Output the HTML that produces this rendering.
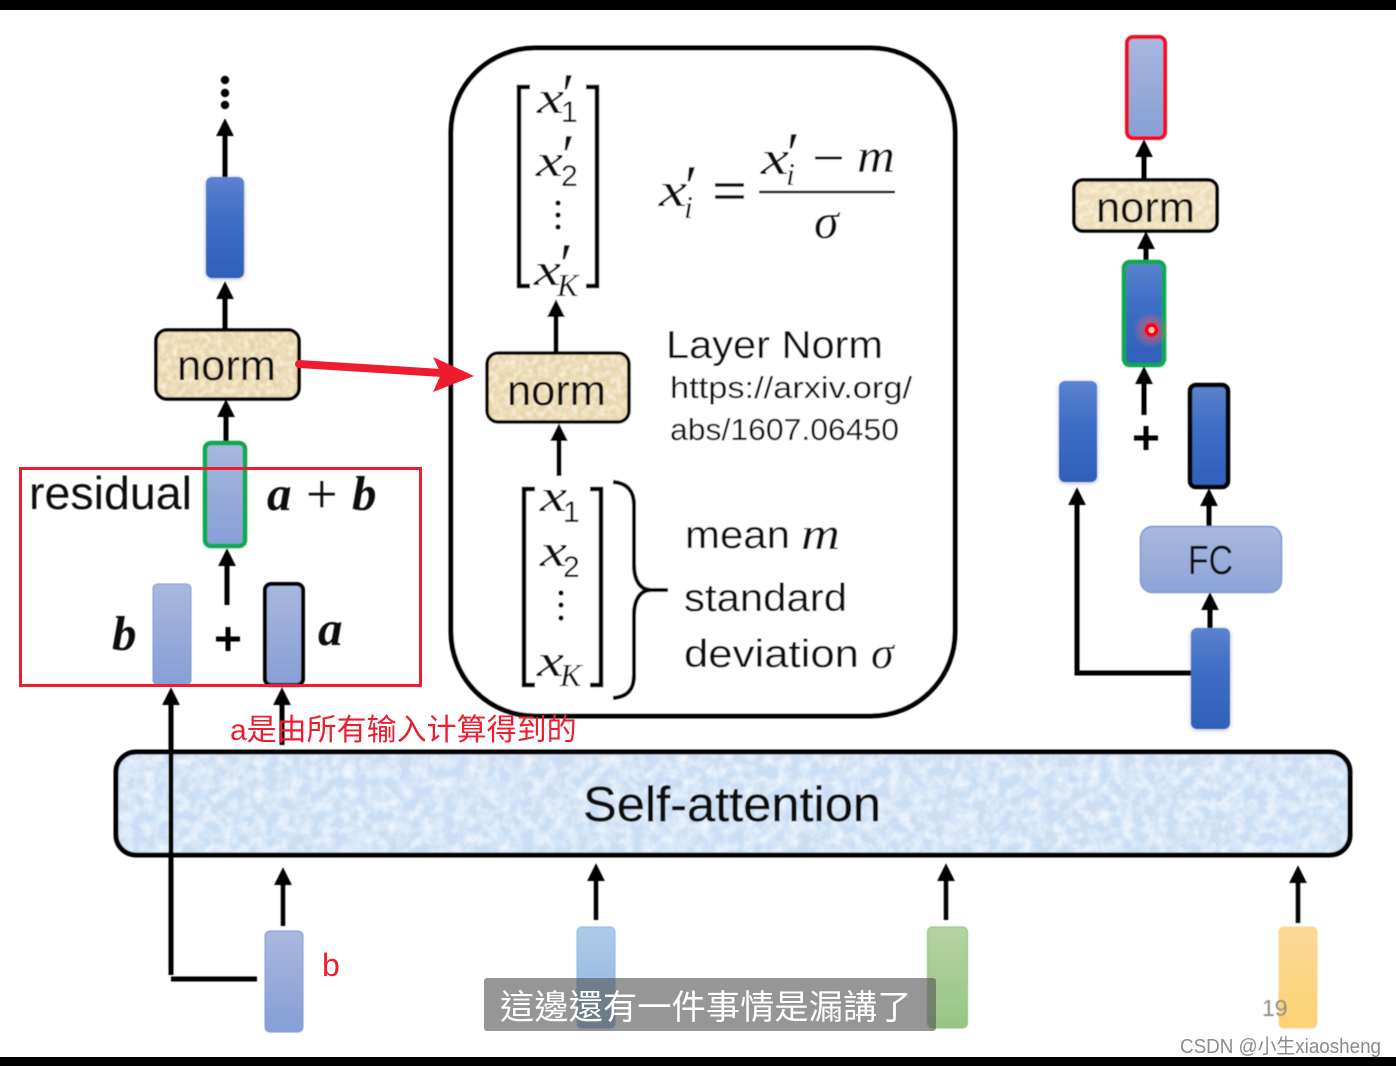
<!DOCTYPE html>
<html><head><meta charset="utf-8"><style>
html,body{margin:0;padding:0;background:#fff;width:1396px;height:1066px;overflow:hidden}
svg{display:block}
text{font-family:"Liberation Sans","Noto Sans CJK SC",sans-serif;fill:#111}
.m{font-family:"Liberation Serif",serif;font-style:italic}
.p{font-family:"Liberation Serif",serif;font-style:italic;font-size:60px}
.bi{font-family:"Liberation Serif",serif;font-style:italic;font-weight:bold;fill:#111}
.l{stroke:#000;stroke-width:5;fill:none}
.lt{stroke:#000;stroke-width:4.5;fill:none}
.a{marker-end:url(#ah)}
</style></head><body>
<svg width="1396" height="1066" viewBox="0 0 1396 1066" xmlns="http://www.w3.org/2000/svg">
<defs>
<marker id="ah" markerUnits="userSpaceOnUse" markerWidth="20" markerHeight="20" refX="0" refY="9" orient="auto" viewBox="0 0 18 18"><path d="M0,1 L16,9 L0,17 Z" fill="#000"/></marker>
<linearGradient id="blue" x1="0" y1="0" x2="0" y2="1"><stop offset="0" stop-color="#5c83cf"/><stop offset=".4" stop-color="#3f6ec5"/><stop offset="1" stop-color="#2f60b9"/></linearGradient>
<linearGradient id="lb" x1="0" y1="0" x2="0" y2="1"><stop offset="0" stop-color="#a8b8de"/><stop offset="1" stop-color="#869fd6"/></linearGradient>
<linearGradient id="sky" x1="0" y1="0" x2="0" y2="1"><stop offset="0" stop-color="#aecbe8"/><stop offset="1" stop-color="#8fb4df"/></linearGradient>
<linearGradient id="gr" x1="0" y1="0" x2="0" y2="1"><stop offset="0" stop-color="#b5d4a3"/><stop offset="1" stop-color="#97c585"/></linearGradient>
<linearGradient id="ye" x1="0" y1="0" x2="0" y2="1"><stop offset="0" stop-color="#fcd998"/><stop offset="1" stop-color="#fdd272"/></linearGradient>
<linearGradient id="fc" x1="0" y1="0" x2="0" y2="1"><stop offset="0" stop-color="#a8b8de"/><stop offset="1" stop-color="#8ea5d9"/></linearGradient>
<radialGradient id="glow"><stop offset="0" stop-color="#ff3030" stop-opacity=".85"/><stop offset="1" stop-color="#ff8080" stop-opacity="0"/></radialGradient>
<filter id="s" x="-20%" y="-20%" width="140%" height="140%"><feGaussianBlur stdDeviation="0.6"/></filter>
<filter id="sh" x="-30%" y="-20%" width="160%" height="140%"><feDropShadow dx="0" dy="1" stdDeviation="2" flood-color="#000" flood-opacity=".3"/></filter>
<filter id="tex" x="0" y="0" width="100%" height="100%"><feTurbulence type="fractalNoise" baseFrequency="0.09" numOctaves="3" seed="4"/><feColorMatrix type="matrix" values="0 0 0 0 0.93  0 0 0 0 0.96  0 0 0 0 1  1.6 0 0 0 -0.55"/><feComposite in2="SourceGraphic" operator="in"/><feMerge><feMergeNode in="SourceGraphic"/><feMergeNode/></feMerge></filter>
<filter id="tex2" x="0" y="0" width="100%" height="100%"><feTurbulence type="fractalNoise" baseFrequency="0.18" numOctaves="2" seed="9"/><feColorMatrix type="matrix" values="0 0 0 0 0.97  0 0 0 0 0.92  0 0 0 0 0.76  1.6 0 0 0 -0.55"/><feComposite in2="SourceGraphic" operator="in"/><feMerge><feMergeNode in="SourceGraphic"/><feMergeNode/></feMerge></filter>
</defs>

<rect width="1396" height="1066" fill="#fff"/>
<rect width="1396" height="10" fill="#000"/>
<rect y="1057" width="1396" height="9" fill="#000"/>

<g filter="url(#s)">
<!-- left column -->
<circle cx="225" cy="80" r="4.2"/><circle cx="225" cy="93" r="4.2"/><circle cx="225" cy="105" r="4.2"/>
<line class="l a" x1="225" y1="177" x2="225" y2="136"/>
<rect x="206" y="177" width="38" height="101" rx="6" fill="url(#blue)" filter="url(#sh)"/>
<line class="l a" x1="225" y1="329" x2="225" y2="299"/>
<rect x="156" y="330" width="143" height="69" rx="11" fill="#e7d6ab" stroke="#000" stroke-width="3.5"/>
<rect x="158" y="332" width="139" height="65" rx="9" fill="#e7d6ab" filter="url(#tex2)"/>
<text x="177" y="380" font-size="43" textLength="99" lengthAdjust="spacingAndGlyphs">norm</text>
<line class="l a" x1="226" y1="442" x2="226" y2="417"/>
<rect x="205" y="443" width="40" height="103" rx="6" fill="url(#lb)" stroke="#0aa850" stroke-width="4.5"/>
<text x="29" y="509" font-size="46" textLength="163" lengthAdjust="spacingAndGlyphs">residual</text>
<text class="bi" x="267" y="510" font-size="49">a</text>
<text class="m" x="306" y="513" font-size="56" style="font-style:normal">+</text>
<text class="bi" x="352" y="510" font-size="49">b</text>
<line class="l a" x1="227" y1="605" x2="227" y2="566"/>
<text class="bi" x="112" y="650" font-size="49">b</text>
<text class="bi" x="318" y="645" font-size="49">a</text>
<rect x="153" y="584" width="38" height="101" rx="5" fill="url(#lb)" stroke="#7e9ad0" stroke-width="1"/>
<rect x="265" y="584" width="38" height="101" rx="6" fill="url(#lb)" stroke="#000" stroke-width="4"/>
<path d="M216,639 H240 M228,627 V651" stroke="#000" stroke-width="5" fill="none"/>
<line class="l a" x1="171" y1="975" x2="171" y2="705"/>
<line class="l" x1="171" y1="979" x2="257" y2="979" stroke-width="5"/>
<line class="l a" x1="282" y1="745" x2="282" y2="705"/>

<!-- self attention -->
<rect x="116" y="752" width="1234" height="103" rx="20" fill="#cbdef3" stroke="#000" stroke-width="5"/>
<rect x="119" y="755" width="1228" height="97" rx="18" fill="#cbdef3" filter="url(#tex)"/>
<line class="l" x1="171" y1="748" x2="171" y2="858"/>
<text x="583" y="821" font-size="49" textLength="298" lengthAdjust="spacingAndGlyphs" stroke="#111" stroke-width=".4">Self-attention</text>

<!-- centre panel -->
<rect x="451" y="48" width="504" height="668" rx="84" fill="#fff" stroke="#000" stroke-width="5"/>
<path d="M530,87 H519 V286 H530 M586,87 H597 V286 H586" class="lt" stroke-width="4"/>
<path d="M535,489 H524 V685 H535 M590,489 H601 V685 H590" class="lt" stroke-width="4"/>
<g font-size="46">
<text class="m" x="537" y="113" textLength="27" lengthAdjust="spacingAndGlyphs">x</text><text class="p" x="558" y="115">′</text><text x="561" y="122" font-size="30">1</text>
<text class="m" x="536" y="176" textLength="27" lengthAdjust="spacingAndGlyphs">x</text><text class="p" x="558" y="176">′</text><text x="561" y="186" font-size="30">2</text>
<text class="m" x="534" y="285" textLength="27" lengthAdjust="spacingAndGlyphs">x</text><text class="p" x="556" y="285">′</text><text class="m" x="557" y="296" font-size="32">K</text>
<text class="m" x="540" y="511" textLength="27" lengthAdjust="spacingAndGlyphs">x</text><text x="563" y="522" font-size="30">1</text>
<text class="m" x="540" y="566" textLength="27" lengthAdjust="spacingAndGlyphs">x</text><text x="563" y="577" font-size="30">2</text>
<text class="m" x="537" y="676" textLength="27" lengthAdjust="spacingAndGlyphs">x</text><text class="m" x="560" y="686" font-size="32">K</text>
</g>
<circle cx="558" cy="203" r="2.6"/><circle cx="558" cy="215" r="2.6"/><circle cx="558" cy="227" r="2.6"/>
<circle cx="561" cy="593" r="2.6"/><circle cx="561" cy="605" r="2.6"/><circle cx="561" cy="618" r="2.6"/>
<path d="M613,482 C628,483 634,492 634,505 V565 C634,580 640,590 651,590 H668 M651,590 C640,590 634,600 634,615 V675 C634,689 628,697 613,698" fill="none" stroke="#000" stroke-width="4"/>
<line class="l a" x1="556" y1="353" x2="556" y2="317"/>
<rect x="487" y="353" width="142" height="69" rx="11" fill="#e7d6ab" stroke="#000" stroke-width="3.5"/>
<rect x="489" y="355" width="138" height="65" rx="9" fill="#e7d6ab" filter="url(#tex2)"/>
<text x="507" y="405" font-size="43" textLength="99" lengthAdjust="spacingAndGlyphs">norm</text>
<line class="l a" x1="559" y1="476" x2="559" y2="441"/>
<g>
<text class="m" x="659" y="206" font-size="48" textLength="28" lengthAdjust="spacingAndGlyphs">x</text><text class="p" x="681" y="207">′</text><text class="m" x="684" y="218" font-size="32">i</text>
<path d="M715,185 H744 M715,197 H744" stroke="#111" stroke-width="3.5"/>
<text class="m" x="761" y="174" font-size="48" textLength="28" lengthAdjust="spacingAndGlyphs">x</text><text class="p" x="783" y="174">′</text><text class="m" x="786" y="185" font-size="32">i</text>
<line x1="815" y1="158" x2="842" y2="158" stroke="#111" stroke-width="3"/>
<text class="m" x="857" y="172" font-size="48" textLength="38" lengthAdjust="spacingAndGlyphs">m</text>
<line x1="759" y1="192" x2="895" y2="192" stroke="#111" stroke-width="2.5"/>
<text class="m" x="814" y="238" font-size="50">σ</text>
</g>
<text x="666" y="358" font-size="39" textLength="217" lengthAdjust="spacingAndGlyphs">Layer Norm</text>
<text x="670" y="398" font-size="31" textLength="242" lengthAdjust="spacingAndGlyphs">https://arxiv.org/</text>
<text x="670" y="440" font-size="31" textLength="229" lengthAdjust="spacingAndGlyphs">abs/1607.06450</text>
<text x="685" y="548" font-size="39" textLength="105" lengthAdjust="spacingAndGlyphs">mean</text>
<text class="m" x="801" y="549" font-size="46" textLength="39" lengthAdjust="spacingAndGlyphs">m</text>
<text x="684" y="611" font-size="39" textLength="163" lengthAdjust="spacingAndGlyphs">standard</text>
<text x="684" y="667" font-size="39" textLength="175" lengthAdjust="spacingAndGlyphs">deviation</text>
<text class="m" x="871" y="668" font-size="46">σ</text>

<!-- right column -->
<line class="l a" x1="1144" y1="179" x2="1144" y2="157"/>
<rect x="1127" y="37" width="38" height="101" rx="6" fill="url(#lb)" stroke="#ee1122" stroke-width="4"/>
<rect x="1074" y="180" width="143" height="51" rx="9" fill="#ebdcb6" stroke="#000" stroke-width="3.5"/>
<rect x="1076" y="182" width="139" height="47" rx="7" fill="#ebdcb6" filter="url(#tex2)"/>
<text x="1096" y="222" font-size="43" textLength="99" lengthAdjust="spacingAndGlyphs">norm</text>
<line class="l a" x1="1146" y1="261" x2="1146" y2="249"/>
<rect x="1124" y="262" width="40" height="103" rx="6" fill="url(#blue)" stroke="#0aa850" stroke-width="4.5"/>
<line class="l a" x1="1144" y1="415" x2="1144" y2="384"/>
<path d="M1134,438 H1158 M1146,426 V450" stroke="#000" stroke-width="5" fill="none"/>
<rect x="1059" y="381" width="38" height="101" rx="6" fill="url(#blue)" filter="url(#sh)"/>
<rect x="1190" y="385" width="38" height="102" rx="6" fill="url(#blue)" stroke="#000" stroke-width="4.5"/>
<line class="l a" x1="1209" y1="526" x2="1209" y2="506"/>
<rect x="1140.500" y="526.500" width="141" height="66" rx="12" fill="url(#fc)" stroke="#7a99d6" stroke-width="1.500"/>
<text x="1188" y="574" font-size="41" textLength="45" lengthAdjust="spacingAndGlyphs">FC</text>
<line class="l a" x1="1210" y1="628" x2="1210" y2="610"/>
<path d="M1191,673 H1077 V505" class="l a"/>
<rect x="1191" y="628" width="39" height="101" rx="6" fill="url(#blue)" filter="url(#sh)"/>

<!-- bottom inputs -->
<line class="lt a" x1="283" y1="926" x2="283" y2="885"/>
<line class="lt a" x1="596" y1="920" x2="596" y2="881"/>
<line class="lt a" x1="946" y1="920" x2="946" y2="881"/>
<line class="lt a" x1="1298" y1="923" x2="1298" y2="883"/>
<rect x="265" y="931" width="38" height="101" rx="5" fill="url(#lb)" stroke="#7e9ad0" stroke-width="1"/>
<rect x="577" y="927" width="38" height="101" rx="5" fill="url(#sky)" stroke="#8ab0dc" stroke-width="1"/>
<rect x="927.500" y="927" width="40" height="101" rx="5" fill="url(#gr)" stroke="#8dbe7b" stroke-width="1"/>
<rect x="1279" y="927" width="38" height="101" rx="5" fill="url(#ye)" stroke="#fbd58c" stroke-width="1"/>
<text x="1262" y="1016" font-size="23" style="fill:#8a8a8a">19</text>
</g>

<!-- red dot -->
<circle cx="1151" cy="330" r="18" fill="url(#glow)"/>
<circle cx="1151.500" cy="330" r="5" fill="#fbb" stroke="#ff0010" stroke-width="3.5"/>

<!-- red annotations -->
<rect x="20.500" y="468.500" width="400" height="217" fill="none" stroke="#ee1c2e" stroke-width="3"/>
<line x1="299" y1="364" x2="442" y2="373" stroke="#ee1c2e" stroke-width="8" stroke-linecap="round"/>
<path d="M474,376 L433,357 L441,374 L433,392 Z" fill="#ee1c2e"/>
<text x="230" y="740" font-size="30" style="fill:#ee1c2e">a是由所有输入计算得到的</text>
<text x="322" y="976" font-size="32" style="fill:#ee1c2e">b</text>

<!-- subtitle -->
<rect x="484" y="978" width="452" height="53" rx="3" fill="#555" fill-opacity=".62"/>
<text x="500" y="1019" font-size="34.300" style='fill:#fff;font-family:"Noto Sans CJK TC","Noto Sans CJK SC",sans-serif'>這邊還有一件事情是漏講了</text>

<!-- watermark -->
<text x="1180" y="1053" font-size="20" textLength="201" lengthAdjust="spacingAndGlyphs" style="fill:#8c8c8c">CSDN @小生xiaosheng</text>
</svg>
</body></html>
